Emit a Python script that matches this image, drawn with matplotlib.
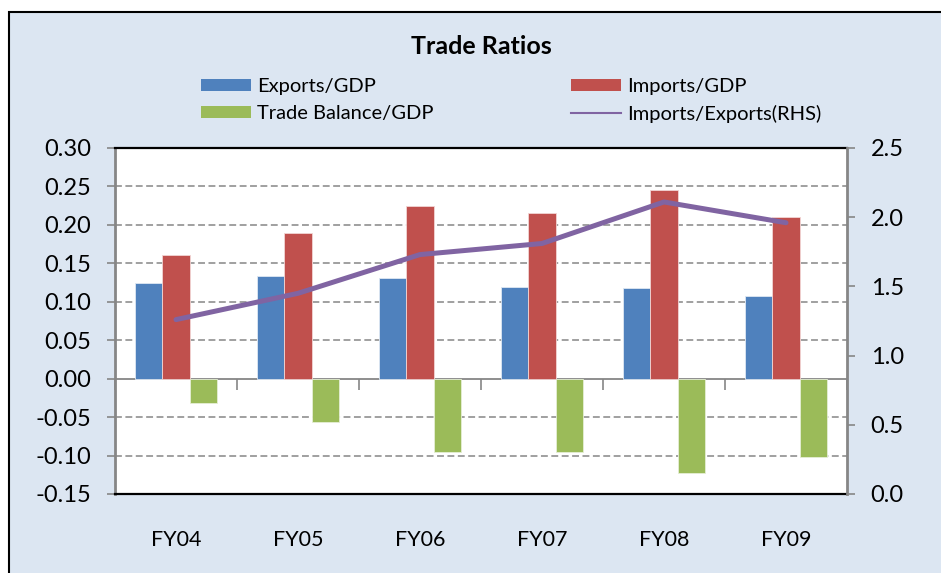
import numpy as np
import matplotlib
matplotlib.use("Agg")
import matplotlib.pyplot as plt
from matplotlib.patches import Rectangle, Patch
from matplotlib.lines import Line2D
from matplotlib.ticker import FormatStrFormatter

plt.rcParams['font.family'] = ['Lato', 'DejaVu Sans']

# data
years = ['FY04', 'FY05', 'FY06', 'FY07', 'FY08', 'FY09']
exports_gdp = [0.125, 0.133, 0.131, 0.119, 0.118, 0.108]
imports_gdp = [0.161, 0.189, 0.225, 0.215, 0.246, 0.210]
balance_gdp = [-0.031, -0.056, -0.095, -0.095, -0.123, -0.102]
imp_exp_ratio = [1.26, 1.45, 1.73, 1.81, 2.11, 1.96]

W, H = 941, 573
fig = plt.figure(figsize=(W / 100, H / 100), dpi=100)
fig.patch.set_facecolor('white')

def fx(px):
    return px / W

def fy(py):
    return 1 - py / H

# chart area background with black border
fig.patches.append(Rectangle((fx(9), -0.1), 1.2, fy(12) + 0.1, transform=fig.transFigure,
                             facecolor='#DCE6F2', edgecolor='black', lw=1.5, zorder=-10))

ax = fig.add_axes([fx(115), fy(494), fx(847) - fx(115), fy(148) - fy(494)])
ax.set_facecolor('white')

gray = '#868686'
x = np.arange(len(years))
w = 0.224
ax.bar(x - w, exports_gdp, w, color='#4F81BD', edgecolor='#dfe8f3', lw=0.6, zorder=3)
ax.bar(x, imports_gdp, w, color='#C0504D', edgecolor='#f2d5d4', lw=0.6, zorder=3)
ax.bar(x + w, balance_gdp, w, color='#9BBB59', edgecolor='#e6efd5', lw=0.6, zorder=3)

ax.set_xlim(-0.5, 5.5)
ax.set_ylim(-0.15, 0.30)
ax.set_yticks(np.arange(-0.15, 0.301, 0.05))
ax.yaxis.set_major_formatter(FormatStrFormatter('%.2f'))
for v in [-0.10, -0.05, 0.05, 0.10, 0.15, 0.20, 0.25]:
    ax.axhline(v, color=gray, lw=1.1, dashes=(4.5, 2.3), zorder=1)

ax.set_xticks(x)
ax.set_xticklabels(years)
ax.tick_params(axis='x', length=0, pad=26, labelsize=15.5)
ax.tick_params(axis='y', direction='out', length=6, width=1.2, color=gray, pad=11, labelsize=17)

for s in ['top', 'bottom']:
    ax.spines[s].set_color('black')
    ax.spines[s].set_linewidth(1.6)
ax.spines['left'].set_color(gray)
ax.spines['left'].set_linewidth(2)
ax.spines['right'].set_visible(False)

# zero line with category separators
sec = ax.secondary_xaxis(1 / 3)
sec.set_xticks(np.arange(-0.5, 5.6, 1.0))
sec.set_xticklabels([])
sec.tick_params(direction='out', length=8, width=1.2, color=gray)
sec.spines['bottom'].set_color(gray)
sec.spines['bottom'].set_linewidth(1.3)

ax2 = ax.twinx()
ax2.plot(x, imp_exp_ratio, color='#8064A2', lw=3.6, solid_capstyle='round', zorder=5)
ax2.set_ylim(0, 2.5)
ax2.set_yticks(np.arange(0, 2.51, 0.5))
ax2.yaxis.set_major_formatter(FormatStrFormatter('%.1f'))
ax2.tick_params(axis='y', direction='out', length=6, width=1.2, color=gray, pad=11, labelsize=17)
ax2.spines['right'].set_color(gray)
ax2.spines['right'].set_linewidth(2)
for s in ['top', 'bottom', 'left']:
    ax2.spines[s].set_visible(False)

fig.text(fx(481), fy(47), 'Trade Ratios', ha='center', va='center',
         fontsize=18, fontweight='bold')

leg_kw = dict(loc='upper left', frameon=False, fontsize=14.5, handlelength=2.5,
              handleheight=0.57, handletextpad=0.3, labelspacing=0.5, borderpad=0,
              borderaxespad=0)
h1 = [Patch(facecolor='#4F81BD'), Patch(facecolor='#9BBB59')]
fig.legend(h1, ['Exports/GDP', 'Trade Balance/GDP'],
           bbox_to_anchor=(fx(201), fy(78)), **leg_kw)
h2 = [Patch(facecolor='#C0504D'), Line2D([], [], color='#8064A2', lw=1.5)]
fig.legend(h2, ['Imports/GDP', 'Imports/Exports(RHS)'],
           bbox_to_anchor=(fx(571), fy(78)), **leg_kw)

fig.savefig('out.png', dpi=100)
